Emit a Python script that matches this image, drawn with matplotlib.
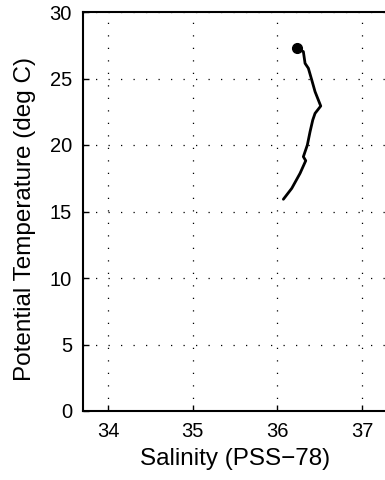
import matplotlib
matplotlib.use("Agg")
import matplotlib.pyplot as plt

plt.rcParams['font.family'] = ['Liberation Sans', 'DejaVu Sans']

salinity = [36.235, 36.306, 36.326, 36.365, 36.405, 36.444, 36.511,
            36.444, 36.417, 36.385, 36.353, 36.306, 36.334, 36.267,
            36.169, 36.07]
temperature = [27.27, 27.02, 26.14, 25.77, 24.89, 24.01, 22.93,
               22.38, 21.88, 21.0, 20.0, 19.12, 18.82, 17.87,
               16.74, 15.92]
xticks = [34, 35, 36, 37]
yticks = [0, 5, 10, 15, 20, 25, 30]

W, H = 385, 480
fig = plt.figure(figsize=(W / 100, H / 100), dpi=100)
left, right, top, bottom = 83, 388, 12, 411
ax = fig.add_axes([left / W, 1 - bottom / H, (right - left) / W, (bottom - top) / H])

ax.plot(salinity, temperature, color='black', lw=2, solid_joinstyle='round',
        solid_capstyle='round')
ax.plot(salinity[0], temperature[0], 'o', color='black', ms=7)

ax.set_xlim(33.705, 37.305)
ax.set_ylim(0, 30)
ax.set_xticks(xticks)
ax.set_yticks(yticks)
ax.tick_params(direction='in', labelsize=14.5, length=4, width=1, pad=8)
ax.grid(True, linestyle=(0, (1, 9)), color='black', lw=0.9)
for s in ax.spines.values():
    s.set_linewidth(1.5)
ax.set_xlabel('Salinity (PSS\u221278)', fontsize=17.5)
ax.set_ylabel('Potential Temperature (deg C)', fontsize=17.5)
ax.xaxis.set_label_coords(0.5, -(448 - 411) / (bottom - top))
ax.yaxis.set_label_coords((36 - left) / (right - left), (411 - 219) / (bottom - top))

fig.savefig('out.png', dpi=100)
